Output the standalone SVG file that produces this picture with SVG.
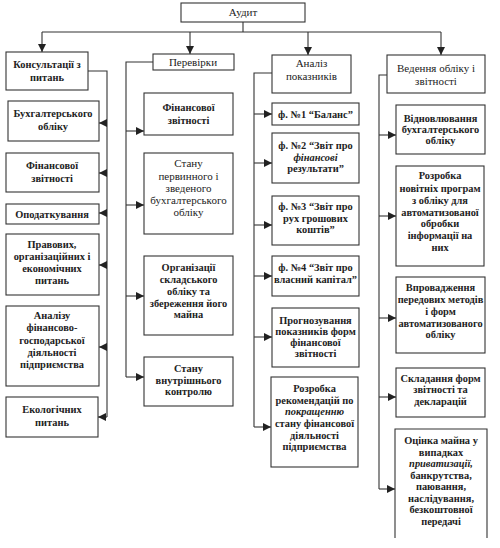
<svg xmlns="http://www.w3.org/2000/svg" width="500" height="548" viewBox="0 0 500 548">
<defs>
<marker id="ah" markerUnits="userSpaceOnUse" markerWidth="9" markerHeight="8" refX="8" refY="4" orient="auto">
<path d="M0,0 L8,4 L0,8 Z" fill="#222"/>
</marker>
</defs>
<style>
.b{fill:#fff;stroke:#333;stroke-width:1.1}
.t{font-family:"Liberation Serif","Times New Roman",serif;font-size:10.4px;font-weight:bold;fill:#222;text-anchor:middle}
.r{font-weight:normal;font-size:11px}
.i{font-style:italic}
.c{fill:none;stroke:#333;stroke-width:1.1}
.a{fill:none;stroke:#333;stroke-width:1.1;marker-end:url(#ah)}
</style>
<rect width="500" height="548" fill="#fff"/>

<g id="connectors">
<path class="c" d="M243,22 V32 M42,32 H441"/>
<path class="a" d="M42,32 V52"/>
<path class="a" d="M190,32 V54"/>
<path class="a" d="M308,32 V55"/>
<path class="a" d="M441,32 V55"/>
<path class="c" d="M88,71 H107 V417"/>
<path class="a" d="M107,123 H99"/>
<path class="a" d="M107,173 H99"/>
<path class="a" d="M107,213 H99"/>
<path class="a" d="M107,265 H99"/>
<path class="a" d="M107,347 H99"/>
<path class="a" d="M107,417 H98"/>
<path class="c" d="M153,62 H126 V377"/>
<path class="a" d="M126,131 H144"/>
<path class="a" d="M126,205 H144"/>
<path class="a" d="M126,296 H144"/>
<path class="a" d="M126,377 H144"/>
<path class="c" d="M272,73 H254 V427"/>
<path class="a" d="M254,114 H272"/>
<path class="a" d="M254,163 H272"/>
<path class="a" d="M254,225 H272"/>
<path class="a" d="M254,276 H272"/>
<path class="a" d="M254,337 H272"/>
<path class="a" d="M254,427 H271"/>
<path class="c" d="M387,75 H379 V489"/>
<path class="a" d="M379,135 H396"/>
<path class="a" d="M379,216 H396"/>
<path class="a" d="M379,318 H396"/>
<path class="a" d="M379,397 H396"/>
<path class="a" d="M379,489 H395"/>
</g>

<g id="audit"><rect class="b" x="181" y="3" width="124" height="19"/><text class="t r" x="243" y="16">Аудит</text></g>

<g id="konsult"><rect class="b" x="6" y="52" width="82" height="38"/><text class="t" x="47" y="68">Консультації з</text><text class="t" x="47" y="81">питань</text></g>
<g id="k1"><rect class="b" x="8" y="101" width="91" height="40"/><text class="t" x="53" y="117">Бухгалтерського</text><text class="t" x="53" y="130">обліку</text></g>
<g id="k2"><rect class="b" x="6" y="153" width="93" height="39"/><text class="t" x="52" y="169">Фінансової</text><text class="t" x="52" y="182">звітності</text></g>
<g id="k3"><rect class="b" x="6" y="204" width="93" height="20"/><text class="t" x="52" y="218">Оподаткування</text></g>
<g id="k4"><rect class="b" x="6" y="234" width="93" height="61"/><text class="t" x="52" y="248">Правових,</text><text class="t" x="52" y="260">організаційних і</text><text class="t" x="52" y="272">економічних</text><text class="t" x="52" y="284">питань</text></g>
<g id="k5"><rect class="b" x="6" y="306" width="93" height="80"/><text class="t" x="52" y="319">Аналізу</text><text class="t" x="52" y="331">фінансово-</text><text class="t" x="52" y="344">господарської</text><text class="t" x="52" y="356">діяльності</text><text class="t" x="52" y="368">підприємства</text></g>
<g id="k6"><rect class="b" x="6" y="397" width="92" height="40"/><text class="t" x="52" y="413">Екологічних</text><text class="t" x="52" y="426">питань</text></g>

<g id="perevirky"><rect class="b" x="153" y="54" width="81" height="16"/><text class="t r" x="193" y="66">Перевірки</text></g>
<g id="p1"><rect class="b" x="144" y="93" width="89" height="42"/><text class="t" x="188.5" y="111">Фінансової</text><text class="t" x="188.5" y="124">звітності</text></g>
<g id="p2"><rect class="b" x="144" y="153" width="89" height="81"/><text class="t r" x="188.5" y="167">Стану</text><text class="t r" x="188.5" y="180">первинного і</text><text class="t r" x="188.5" y="192">зведеного</text><text class="t r" x="188.5" y="204">бухгалтерського</text><text class="t r" x="188.5" y="216">обліку</text></g>
<g id="p3"><rect class="b" x="144" y="256" width="89" height="79"/><text class="t" x="188.5" y="271">Організації</text><text class="t" x="188.5" y="283">складського</text><text class="t" x="188.5" y="295">обліку та</text><text class="t" x="188.5" y="307">збереження його</text><text class="t" x="188.5" y="318">майна</text></g>
<g id="p4"><rect class="b" x="144" y="357" width="89" height="49"/><text class="t" x="188.5" y="372">Стану</text><text class="t" x="188.5" y="384">внутрішнього</text><text class="t" x="188.5" y="395">контролю</text></g>

<g id="analiz"><rect class="b" x="272" y="55" width="79" height="38"/><text class="t r" x="311.5" y="67">Аналіз</text><text class="t r" x="311.5" y="80">показників</text></g>
<g id="a1"><rect class="b" x="272" y="103" width="87" height="22"/><text class="t" x="315.5" y="118">ф. №1 “Баланс”</text></g>
<g id="a2"><rect class="b" x="272" y="133" width="87" height="50"/><text class="t" x="315.5" y="149">ф. №2 “Звіт про</text><text class="t i" x="315.5" y="161">фінансові</text><text class="t" x="315.5" y="172">результати”</text></g>
<g id="a3"><rect class="b" x="272" y="196" width="87" height="49"/><text class="t" x="315.5" y="210">ф. №3 “Звіт про</text><text class="t" x="315.5" y="222">рух грошових</text><text class="t" x="315.5" y="233">коштів”</text></g>
<g id="a4"><rect class="b" x="272" y="256" width="87" height="40"/><text class="t" x="315.5" y="271">ф. №4 “Звіт про</text><text class="t" x="315.5" y="283">власний капітал”</text></g>
<g id="a5"><rect class="b" x="272" y="308" width="87" height="59"/><text class="t" x="315.5" y="324">Прогнозування</text><text class="t" x="315.5" y="335">показників форм</text><text class="t" x="315.5" y="346">фінансової</text><text class="t" x="315.5" y="357">звітності</text></g>
<g id="a6"><rect class="b" x="271" y="377" width="87" height="90"/><text class="t" x="314.5" y="392">Розробка</text><text class="t" x="314.5" y="403.5">рекомендацій по</text><text class="t i" x="314.5" y="415">покращенню</text><text class="t" x="314.5" y="427">стану фінансової</text><text class="t" x="314.5" y="438.5">діяльності</text><text class="t" x="314.5" y="450">підприємства</text></g>

<g id="vedennia"><rect class="b" x="387" y="55" width="98" height="38"/><text class="t r" x="436" y="72">Ведення обліку і</text><text class="t r" x="436" y="85">звітності</text></g>
<g id="v1"><rect class="b" x="396" y="105" width="89" height="49"/><text class="t" x="440.5" y="122">Відновлювання</text><text class="t" x="440.5" y="133">бухгалтерського</text><text class="t" x="440.5" y="144">обліку</text></g>
<g id="v2"><rect class="b" x="396" y="166" width="88" height="100"/><text class="t" x="440" y="179">Розробка</text><text class="t" x="440" y="192">новітніх програм</text><text class="t" x="440" y="204">з обліку для</text><text class="t" x="440" y="216">автоматизованої</text><text class="t" x="440" y="227">обробки</text><text class="t" x="440" y="239">інформації на</text><text class="t" x="440" y="251">них</text></g>
<g id="v3"><rect class="b" x="396" y="277" width="89" height="76"/><text class="t" x="440.5" y="291">Впровадження</text><text class="t" x="440.5" y="303">передових методів</text><text class="t" x="440.5" y="315">і форм</text><text class="t" x="440.5" y="327">автоматизованого</text><text class="t" x="440.5" y="338">обліку</text></g>
<g id="v4"><rect class="b" x="396" y="368" width="89" height="49"/><text class="t" x="440.5" y="382">Складання форм</text><text class="t" x="440.5" y="393">звітності та</text><text class="t" x="440.5" y="405">декларацій</text></g>
<g id="v5"><path class="b" d="M395,538 V429 H487 V538"/><text class="t" x="441" y="444">Оцінка майна у</text><text class="t" x="441" y="455.5">випадках</text><text class="t i" x="441" y="467">приватизації,</text><text class="t" x="441" y="478.5">банкрутства,</text><text class="t" x="441" y="490">паювання,</text><text class="t" x="441" y="501.5">наслідування,</text><text class="t" x="441" y="513">безкоштовної</text><text class="t" x="441" y="524.5">передачі</text></g>
</svg>
